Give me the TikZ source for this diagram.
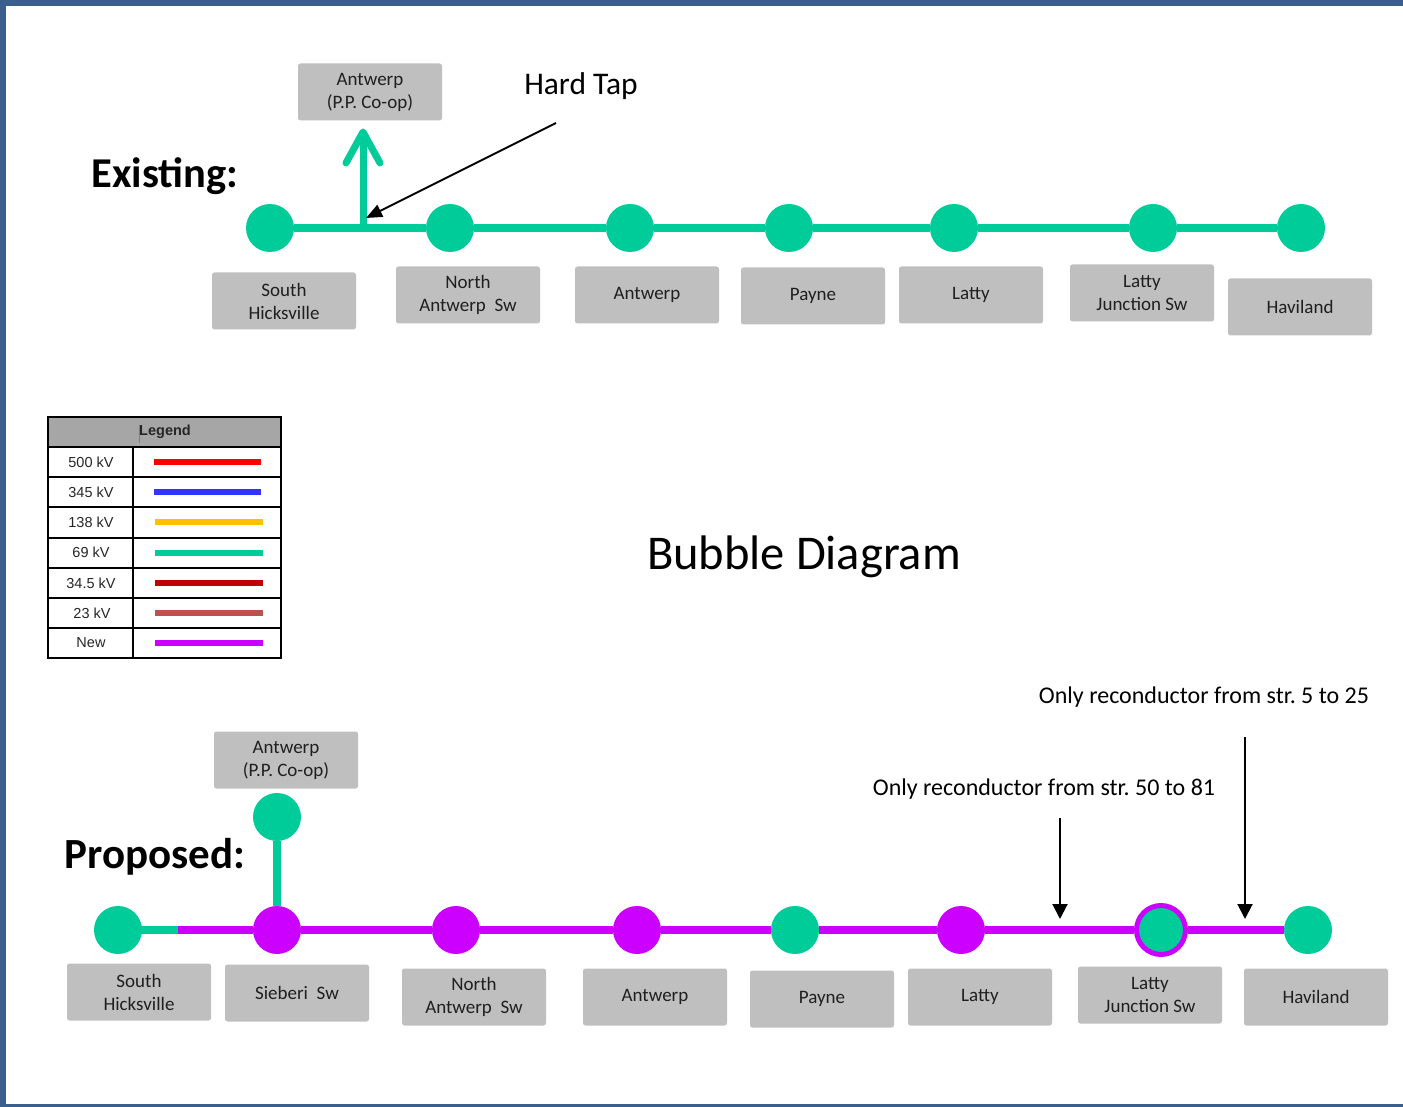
\documentclass[tikz,border=0pt]{standalone}
\usepackage{fontspec}
\setmainfont{Carlito}
\newfontfamily\arialf{Liberation Sans}
\usetikzlibrary{arrows.meta,backgrounds}
\frenchspacing
\definecolor{kvgreen}{RGB}{0,204,153}
\definecolor{newmag}{RGB}{204,0,255}
\definecolor{boxgray}{RGB}{191,191,191}
\definecolor{framec}{RGB}{58,95,140}
\definecolor{headgray}{RGB}{166,166,166}
\definecolor{kvred}{RGB}{255,0,0}
\definecolor{kvblue}{RGB}{51,51,255}
\definecolor{kvorange}{RGB}{255,192,0}
\definecolor{kvdark}{RGB}{192,0,0}
\definecolor{kvbrick}{RGB}{192,80,77}
\tikzset{
  bub/.style={circle,inner sep=0pt,minimum size=48pt,fill=kvgreen},
  bubnew/.style={circle,inner sep=0pt,minimum size=48pt,fill=newmag},
  lbl/.style={rectangle,rounded corners=2.5pt,fill=boxgray,minimum width=144pt,minimum height=57pt,inner sep=0pt,align=center,text=black!88,font=\fontsize{19}{23}\selectfont},
  oldline/.style={draw=kvgreen,line width=8pt},
  newline/.style={draw=newmag,line width=8pt},
  callout/.style={draw=black,line width=2pt,-{Triangle[length=15pt,width=15pt]}},
  legtext/.style={font=\arialf\fontsize{14.5}{16}\selectfont,text=black!85,inner sep=0pt},
  legline/.style={line width=6pt}
}
\begin{document}
\begin{tikzpicture}[x=1pt,y=-1pt]
\useasboundingbox (0,0) rectangle (1403,1107);

% ---------- Existing ----------
\node[font=\bfseries\fontsize{42.5}{46}\selectfont] (existT) at (165,176) {Existing:};
\node[font=\fontsize{31.5}{34}\selectfont] (hardT) at (581,86) {Hard Tap};

\node[bub] (SH1) at (270,228) {};
\node[bub] (NA1) at (450,228) {};
\node[bub] (AN1) at (630,228) {};
\node[bub] (PA1) at (789,228) {};
\node[bub] (LA1) at (954,228) {};
\node[bub] (LJ1) at (1153,228) {};
\node[bub] (HA1) at (1301,228) {};
\coordinate (tapbase) at (363,228);
\coordinate (taptop) at (363,132);
\coordinate (hardS) at (556,123);
\coordinate (hardE) at (366,218);

\draw[draw=kvgreen,line width=7pt] (tapbase) -- (taptop);
\draw[draw=kvgreen,line width=7pt,line cap=round,line join=round] (taptop) ++(-17,31) -- (taptop) -- +(17,31);
\draw[callout,-{Triangle[length=16pt,width=13pt]}] (hardS) -- (hardE);

\node[lbl] (APb1) at (370,92) {Antwerp\\(P.P. Co-op)};
\node[lbl] (SHb1) at (284,301) {South\\Hicksville};
\node[lbl] (NAb1) at (468,295) {North\\Antwerp~~Sw};
\node[lbl] (ANb1) at (647,295) {Antwerp};
\node[lbl] (PAb1) at (813,296) {Payne};
\node[lbl] (LAb1) at (971,295) {Latty};
\node[lbl] (LJb1) at (1142,293) {Latty\\Junction Sw};
\node[lbl] (HAb1) at (1300,307) {Haviland};

% ---------- Legend ----------
\fill[headgray] (48,417) rectangle (281,447);
\foreach \yy in {447,477,507,537.5,568,598,628}{\draw[line width=2pt] (48,\yy) -- (281,\yy);}
\draw[line width=2pt] (133,447) -- (133,658);
\draw[line width=2pt] (48,417) rectangle (281,658);
\draw[gray,line width=0.8pt] (139.5,425) -- (139.5,443);
\node[legtext,font=\arialf\bfseries\fontsize{14.5}{16}\selectfont] (legH) at (165,432) {Legend};
\node[legtext] (L1) at (91,462) {500 kV};
\node[legtext] (L2) at (91,492) {345 kV};
\node[legtext] (L3) at (91,522) {138 kV};
\node[legtext] (L4) at (91,552.5) {69 kV};
\node[legtext] (L5) at (91,583) {34.5 kV};
\node[legtext] (L6) at (92,613) {23 kV};
\node[legtext] (L7) at (91,643) {New};
\draw[legline,kvred] (154,462) -- (261,462);
\draw[legline,kvblue] (154,492) -- (261,492);
\draw[legline,kvorange] (155,522) -- (263,522);
\draw[legline,kvgreen] (155,552.5) -- (263,552.5);
\draw[legline,kvdark] (155,583) -- (263,583);
\draw[legline,kvbrick] (155,613) -- (263,613);
\draw[legline,newmag] (155,643) -- (263,643);

\node[font=\fontsize{48.5}{52}\selectfont] (bubT) at (804,557) {Bubble Diagram};

% ---------- Proposed ----------
\node[font=\bfseries\fontsize{43}{46}\selectfont] (propT) at (155,857) {Proposed:};

\node[bub] (SH2) at (118,930) {};
\node[bubnew] (SI2) at (277,930) {};
\node[bub] (AP2) at (277,817) {};
\node[bubnew] (NA2) at (456,930) {};
\node[bubnew] (AN2) at (637,930) {};
\node[bub] (PA2) at (795,930) {};
\node[bubnew] (LA2) at (961,930) {};
\node[bub,draw=newmag,line width=5pt,minimum size=49pt] (LJ2) at (1161,930) {};
\node[bub] (HA2) at (1308,930) {};
\coordinate (split) at (178,930);

\node[lbl] (APb2) at (286,760) {Antwerp\\(P.P. Co-op)};
\node[lbl] (SHb2) at (139,992) {South\\Hicksville};
\node[lbl] (SIb2) at (297,993) {Sieberi~~Sw};
\node[lbl] (NAb2) at (474,997) {North\\Antwerp~~Sw};
\node[lbl] (ANb2) at (655,997) {Antwerp};
\node[lbl] (PAb2) at (822,999) {Payne};
\node[lbl] (LAb2) at (980,997) {Latty};
\node[lbl] (LJb2) at (1150,995) {Latty\\Junction Sw};
\node[lbl] (HAb2) at (1316,997) {Haviland};

\node[font=\fontsize{24}{27}\selectfont] (rc1) at (1204,697) {Only reconductor from str. 5 to 25};
\node[font=\fontsize{24}{27}\selectfont] (rc2) at (1044,789) {Only reconductor from str. 50 to 81};
\coordinate (a1s) at (1060,818);
\coordinate (a1e) at (1060,919);
\coordinate (a2s) at (1245,737);
\coordinate (a2e) at (1245,919);
\draw[callout] (a1s) -- (a1e);
\draw[callout] (a2s) -- (a2e);

\begin{pgfonlayer}{background}
\fill[white] (0,0) rectangle (1403,1107);
\draw[oldline] (SH1) -- (NA1) -- (AN1) -- (PA1) -- (LA1) -- (LJ1) -- (HA1);
\draw[oldline] (SH2.center) -- (split);
\draw[newline] (split) -- (SI2) -- (NA2) -- (AN2) -- (PA2) -- (LA2) -- (LJ2) -- (HA2);
\draw[oldline] (SI2) -- (AP2);
\end{pgfonlayer}
\draw[framec,line width=6.5pt] (3,3) rectangle (1460,1107);
\end{tikzpicture}
\end{document}
